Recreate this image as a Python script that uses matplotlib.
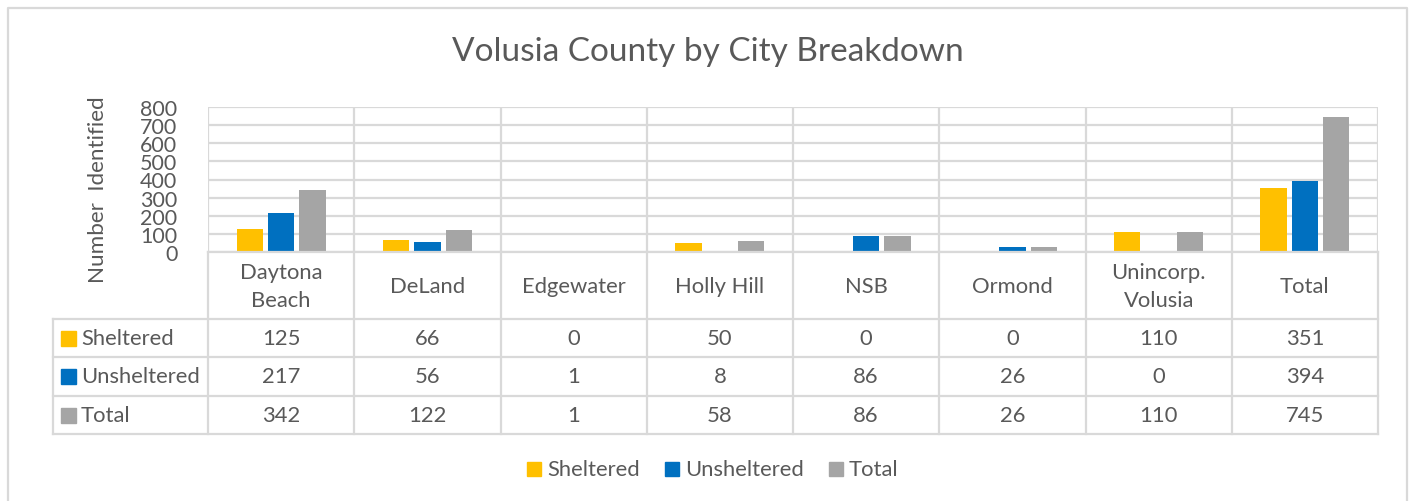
import matplotlib
matplotlib.use("Agg")
import matplotlib.pyplot as plt
from matplotlib.transforms import blended_transform_factory
from matplotlib.patches import Rectangle
from matplotlib.lines import Line2D

categories = ["Daytona\nBeach", "DeLand", "Edgewater", "Holly Hill", "NSB", "Ormond", "Unincorp.\nVolusia", "Total"]
sheltered = [125, 66, 0, 50, 0, 0, 110, 351]
unsheltered = [217, 56, 1, 8, 86, 26, 0, 394]
total = [342, 122, 1, 58, 86, 26, 110, 745]
series_names = ["Sheltered", "Unsheltered", "Total"]
series_colors = ["#FFC000", "#0070C0", "#A5A5A5"]
yticks = [0, 100, 200, 300, 400, 500, 600, 700, 800]

W, H = 1415, 502
FONT = "Lato"
TXT = "#595959"
GRID = "#D9D9D9"
FS = 15.8

plt.rcParams['font.family'] = [FONT, 'DejaVu Sans']
fig = plt.figure(figsize=(W / 100, H / 100), dpi=100)

def fx(px):
    return px / W

def fy(py):
    return 1 - py / H

# plot area in pixels
L, R, T, B = 208, 1378, 108, 253
ax = fig.add_axes([fx(L), fy(B), fx(R - L), (B - T) / H])
n = len(categories)
ax.set_xlim(-0.5, n - 0.5)
ax.set_ylim(0, 800)

data = [sheltered, unsheltered, total]
bw = 0.18
offs = [-0.215, 0.0, 0.215]
for vals, c, o in zip(data, series_colors, offs):
    ax.bar([i + o for i in range(n)], vals, width=bw, color=c, zorder=3)

ax.set_yticks(yticks)
ax.set_yticklabels([str(v) for v in yticks], fontsize=15.5, color=TXT)
ax.tick_params(axis='y', length=0, pad=22)
ax.set_xticks([])
ax.grid(axis='y', color=GRID, linewidth=1.6, zorder=0)
for i in range(n + 1):
    ax.axvline(i - 0.5, color=GRID, linewidth=1.6, zorder=0)
for s in ax.spines.values():
    s.set_visible(False)
fig.text(fx(98), fy(190), "Number  Identified", rotation=90, ha='center', va='center',
         fontsize=16.2, color=TXT)

# table
tr = blended_transform_factory(ax.transData, fig.transFigure)
xleft = -0.5 - (L - 53) / ((R - L) / n)
row_y = [253, 320, 358, 397, 435]
for k, py in enumerate(row_y):
    x0 = -0.5 if k == 0 else xleft
    fig.add_artist(Line2D([x0, n - 0.5], [fy(py), fy(py)], transform=tr, color=GRID, lw=1.6, clip_on=False))
for i in range(n + 1):
    fig.add_artist(Line2D([i - 0.5, i - 0.5], [fy(253), fy(435)], transform=tr, color=GRID, lw=1.6, clip_on=False))
fig.add_artist(Line2D([xleft, xleft], [fy(320), fy(435)], transform=tr, color=GRID, lw=1.6, clip_on=False))

# header labels
for i, c in enumerate(categories):
    fig.text(i, fy(287), c, transform=tr, ha='center', va='center', fontsize=FS, color=TXT,
             linespacing=1.55)

# row values
for r, (vals, name, col) in enumerate(zip(data, series_names, series_colors)):
    yc = (row_y[r + 1] + row_y[r + 2]) / 2
    for i, v in enumerate(vals):
        fig.text(i, fy(yc), str(v), transform=tr, ha='center', va='center', fontsize=FS, color=TXT)
    fig.add_artist(Rectangle((fx(61), fy(yc + 7.5)), fx(15), 15 / H, transform=fig.transFigure,
                             color=col, clip_on=False))
    fig.text(fx(81), fy(yc), name, ha='left', va='center', fontsize=FS, color=TXT)

# title
fig.text(fx(708), fy(52), "Volusia County by City Breakdown", ha='center', va='center',
         fontsize=24, color=TXT)

# legend
leg_items = [(527, 547), (665, 685), (829, 849)]
for (sx, tx), name, col in zip(leg_items, series_names, series_colors):
    fig.add_artist(Rectangle((fx(sx), fy(477)), fx(14), 14 / H, transform=fig.transFigure,
                             color=col, clip_on=False))
    fig.text(fx(tx), fy(470), name, ha='left', va='center', fontsize=FS, color=TXT)

# outer border
bc = "#D9D9D9"
fig.add_artist(Line2D([fx(8), fx(8), fx(1407), fx(1407)], [fy(505), fy(9), fy(9), fy(505)],
                      transform=fig.transFigure, color=bc, lw=1.6))

fig.savefig("out.png", dpi=100, facecolor="white")
